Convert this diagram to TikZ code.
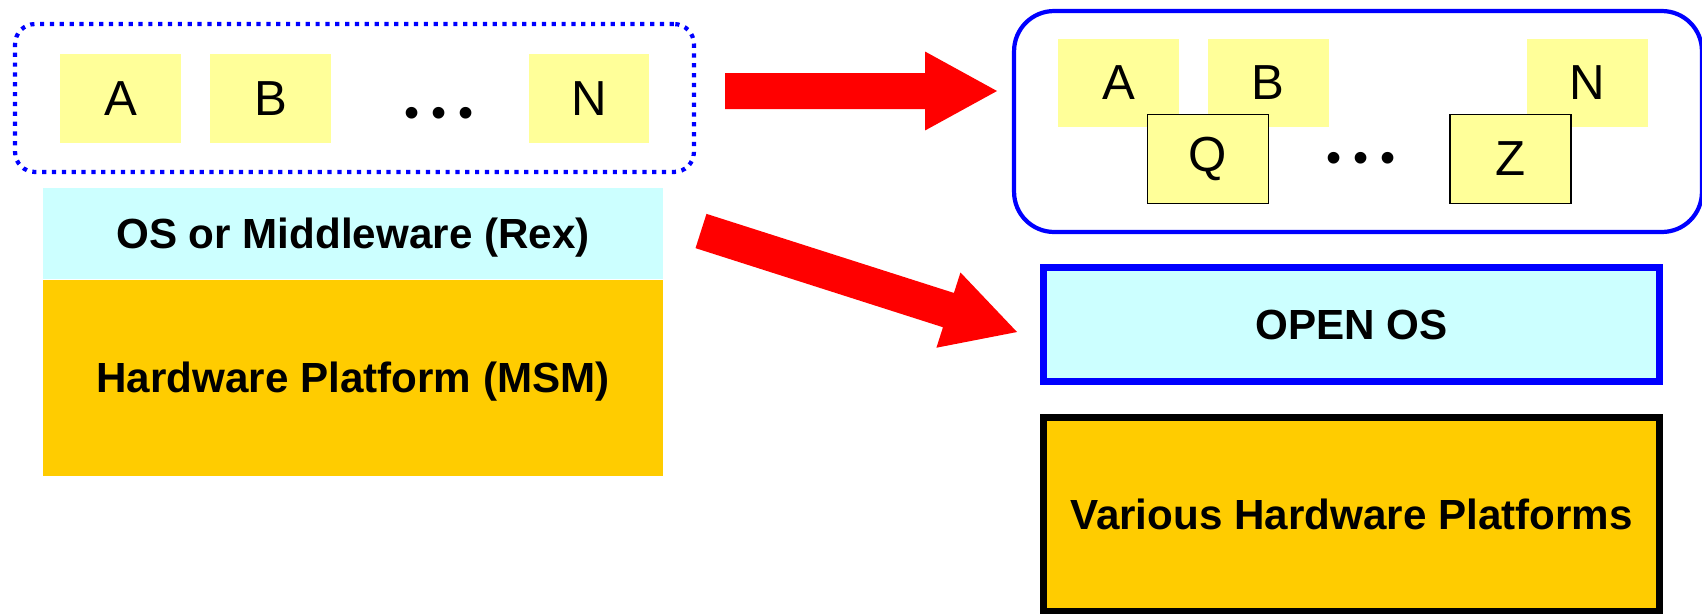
\documentclass[tikz,border=0pt]{standalone}
\usepackage{fontspec}
\setmainfont{Liberation Sans}
\usepackage[svgnames]{xcolor}
\usepackage{tikz}
\usetikzlibrary{calc,positioning}

\definecolor{appyellow}{HTML}{FFFF99}
\definecolor{oscyan}{HTML}{CCFFFF}
\definecolor{hwgold}{HTML}{FFCC00}

\begin{document}
\begin{tikzpicture}
    [ x=.02cm, y=.02cm,
      app/.style={fill=appyellow, inner sep=0pt, minimum width=2.42cm,
                  minimum height=1.78cm, font=\fontsize{28}{32}\selectfont},
      newapp/.style={app, draw=black, line width=.7pt},
      dots/.style={inner sep=0pt, font=\fontsize{24.5}{28}\selectfont},
      layer/.style={inner sep=0pt, minimum width=12.4cm, text height=17.3pt,
                    text depth=0pt, font=\fontsize{24}{28}\selectfont\bfseries},
      framed/.style={layer, line width=4pt, minimum width=12.32cm},
    ]
    \useasboundingbox (0,0) rectangle (1702,-613);

    \node[draw=blue, line width=2.4pt, dash pattern=on 2.4pt off 3.2pt,
          rounded corners=.4cm, minimum width=13.58cm, minimum height=2.96cm]
        (oldapps) at (354.5,-98) {};
    \foreach \name / \lbl / \x in {a/A/120.5, b/B/270.5, n/N/589}
        \node[app] (old\name) at (\x,-98.5) {\lbl};
    \node[dots] (olddots) at (439,-117.4) {• • •};

    \node[layer, fill=oscyan, minimum height=1.82cm] (rex) at (353,-233.5)
        {OS or Middleware (Rex)};
    \node[layer, fill=hwgold, minimum height=3.92cm, below=0pt of rex] (msm)
        {Hardware Platform (MSM)};

    \node[draw=blue, line width=2.4pt, rounded corners=.8cm,
          minimum width=13.76cm, minimum height=4.42cm] (newapps) at (1358,-121.5) {};
    \foreach \name / \lbl / \x in {a/A/1118.5, b/B/1268, n/N/1587.5}
        \node[app] (new\name) at (\x,-83) {\lbl};
    \foreach \name / \lbl / \x in {q/Q/1208, z/Z/1510.5}
        \node[newapp] (new\name) at (\x,-159) {\lbl};
    \node[dots] (newdots) at (1361,-162.4) {• • •};

    \node[framed, draw=blue, fill=oscyan, minimum height=2.28cm] (openos)
        at (1351.5,-324.5) {OPEN OS};
    \node[framed, draw=black, fill=hwgold, minimum height=3.88cm] (hwplat)
        at (1351.5,-514.5) {Various Hardware Platforms};

    \coordinate (port) at (725,-91);
    \coordinate (ported) at (997,-91);
    \coordinate (swap) at (701,-231);
    \coordinate (swapped) at (1017,-332);

    \foreach \s / \t in {port/ported, swap/swapped} {
        \coordinate (head) at ($ (\t)!1.44cm!(\s) $);
        \fill[red] ($ (\s)!.36cm!90:(\t) $) -- ($ (head)!.36cm!90:(\t) $) --
            ($ (head)!.79cm!90:(\t) $) -- (\t) -- ($ (head)!.79cm!-90:(\t) $) --
            ($ (head)!.36cm!-90:(\t) $) -- ($ (\s)!.36cm!-90:(\t) $) -- cycle;
    }
\end{tikzpicture}
\end{document}
